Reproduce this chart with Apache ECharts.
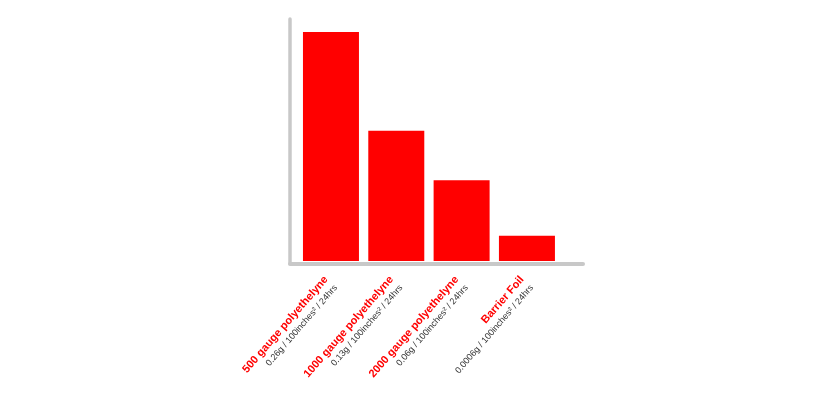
<!DOCTYPE html>
<html>
<head>
<meta charset="utf-8">
<script src="https://cdn.jsdelivr.net/npm/echarts@6/dist/echarts.min.js"></script>
<style>
html,body{margin:0;padding:0;background:#fff;}
#chart{width:832px;height:400px;}
</style>
</head>
<body>
<div id="chart"></div>
<script>
const categories = ['500 gauge polyethelyne', '1000 gauge polyethelyne', '2000 gauge polyethelyne', 'Barrier Foil'];
const subLabels = ['0.26g / 100inches\u00b2 / 24hrs', '0.13g / 100inches\u00b2 / 24hrs', '0.06g / 100inches\u00b2 / 24hrs', '0.0006g / 100inches\u00b2 / 24hrs'];
const values = [95, 54, 33.5, 10.5];

const chart = echarts.init(document.getElementById('chart'));
chart.setOption({
  animation: false,
  grid: [
    {left: 298.3, width: 261.3, top: 20, bottom: 139},
    {left: 290, width: 293, top: 19, bottom: 136.5}
  ],
  xAxis: [
    {
      type: 'category', gridIndex: 0, data: categories,
      axisLine: {show: false}, axisTick: {show: false},
      axisLabel: {
        rotate: 49, margin: 21, interval: 0,
        formatter: function (v, i) { return '{a|' + v + '}\n{b|' + subLabels[i] + '}'; },
        rich: {
          a: {fontFamily: 'Liberation Sans', fontSize: 11, fontWeight: 'bold', color: '#ff0000', lineHeight: 13},
          b: {fontFamily: 'Liberation Sans', fontSize: 9, color: '#333333', lineHeight: 13}
        }
      }
    },
    {
      type: 'value', gridIndex: 1, min: 0, max: 1,
      axisLine: {show: true, lineStyle: {color: '#c8c8c8', width: 4}},
      axisTick: {show: false}, axisLabel: {show: false}, splitLine: {show: false}
    }
  ],
  yAxis: [
    {
      type: 'value', gridIndex: 0, min: 0, max: 100,
      axisLine: {show: false}, axisTick: {show: false}, axisLabel: {show: false}, splitLine: {show: false}
    },
    {
      type: 'value', gridIndex: 1, min: 0, max: 1,
      axisLine: {show: true, lineStyle: {color: '#c8c8c8', width: 3.5}},
      axisTick: {show: false}, axisLabel: {show: false}, splitLine: {show: false}
    }
  ],
  series: [
    {
      type: 'bar', xAxisIndex: 0, yAxisIndex: 0, data: values,
      barWidth: 56, itemStyle: {color: '#ff0000'}
    }
  ]
});
</script>
</body>
</html>
